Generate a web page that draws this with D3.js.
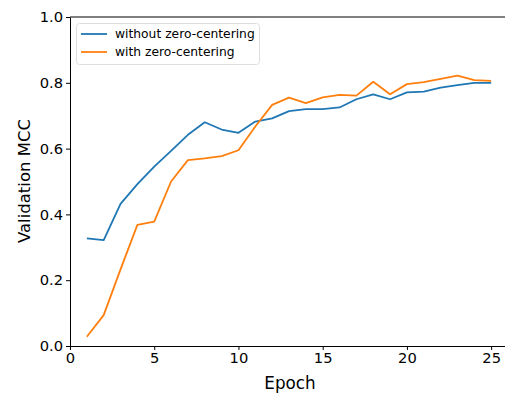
<!DOCTYPE html>
<html><head><meta charset="utf-8">
<script src="https://cdn.jsdelivr.net/npm/d3@7"></script>
<style>body{margin:0;background:#fff}svg{display:block}text{font-family:"DejaVu Sans",sans-serif;fill:#000}</style>
</head><body><svg id="c" width="505" height="394"></svg>
<script>
const epochs = d3.range(1, 26);
const seriesNames = ["without zero-centering", "with zero-centering"];
const withoutZC = [0.327,0.322,0.432,0.492,0.545,0.593,0.642,0.680,0.658,0.648,0.682,0.692,0.714,0.720,0.720,0.725,0.750,0.765,0.750,0.771,0.773,0.785,0.793,0.800,0.800];
const withZC = [0.028,0.094,0.233,0.368,0.378,0.500,0.565,0.570,0.577,0.595,0.667,0.733,0.755,0.738,0.756,0.763,0.761,0.803,0.765,0.796,0.802,0.812,0.822,0.808,0.806];
const xTicks = [0,5,10,15,20,25];
const yTicks = [0,0.2,0.4,0.6,0.8,1.0];
const colors = ["#1f77b4","#ff7f0e"];

const svg = d3.select("#c");
const x = d3.scaleLinear().domain([0,26]).range([70,508]);
const y = d3.scaleLinear().domain([0,1]).range([346,17]);

const line = d3.line().x((d,i)=>x(epochs[i])).y(d=>y(d));
[withoutZC, withZC].forEach((s,k)=>{
  svg.append("path").attr("d", line(s)).attr("fill","none")
    .attr("stroke", colors[k]).attr("stroke-width",1.8).attr("stroke-linejoin","round");
});

// spines
svg.append("line").attr("x1",70).attr("x2",505).attr("y1",17).attr("y2",17).attr("stroke","#000").attr("stroke-width",1);
const gx = svg.append("g").attr("transform","translate(0,346)")
  .call(d3.axisBottom(x).tickValues(xTicks).tickFormat(d3.format("d")).tickSize(4).tickSizeOuter(0).tickPadding(3));
const gy = svg.append("g").attr("transform","translate(70,0)")
  .call(d3.axisLeft(y).tickValues(yTicks).tickFormat(d3.format(".1f")).tickSize(4).tickSizeOuter(0).tickPadding(3));
[gx,gy].forEach(g=>{
  g.select(".domain").attr("stroke","#000");
  g.selectAll("text").attr("font-size",14.7).attr("font-family","DejaVu Sans").attr("fill","#222");
  g.selectAll(".tick line").attr("stroke","#000");
});
gx.select(".domain").attr("d","M70,0.5H505");

svg.append("text").attr("x",290).attr("y",389).attr("text-anchor","middle").attr("font-size",16.8).attr("fill","#222").text("Epoch");
svg.append("text").attr("transform","translate(30,181) rotate(-90)").attr("text-anchor","middle").attr("font-size",16.5).attr("fill","#222").text("Validation MCC");

// legend
const lg = svg.append("g");
lg.append("rect").attr("x",76.5).attr("y",23.5).attr("width",183).attr("height",41).attr("rx",3)
  .attr("fill","#fff").attr("fill-opacity",0.8).attr("stroke","#ddd");
seriesNames.forEach((n,k)=>{
  const yy = 34 + k*18;
  lg.append("line").attr("x1",81).attr("x2",107).attr("y1",yy).attr("y2",yy).attr("stroke",colors[k]).attr("stroke-width",1.8);
  lg.append("text").attr("x",115).attr("y",yy+4.3).attr("font-size",12.3).attr("fill","#222").text(n);
});
</script></body></html>
